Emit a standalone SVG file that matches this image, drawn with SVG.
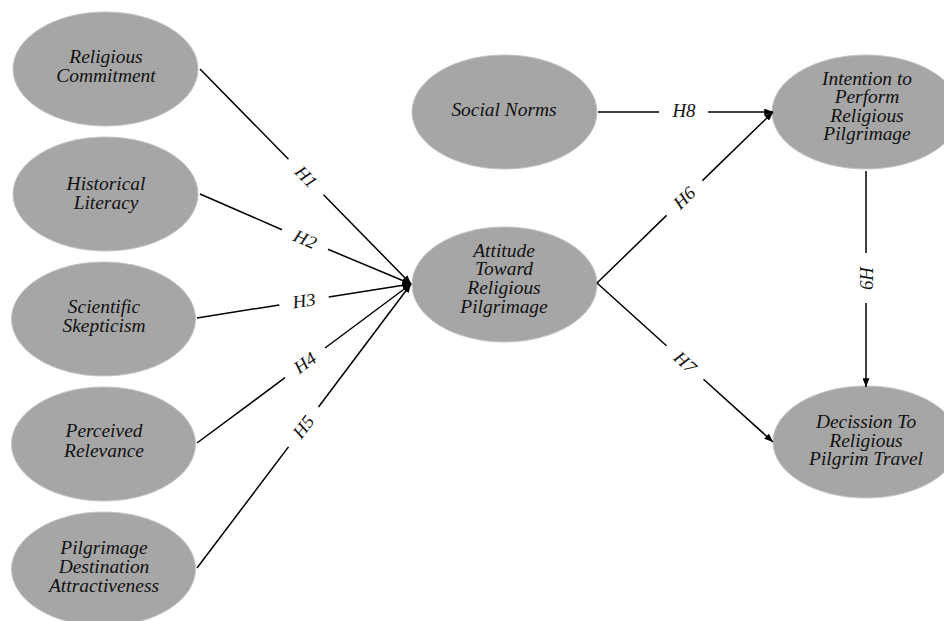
<svg xmlns="http://www.w3.org/2000/svg" width="944" height="621" viewBox="0 0 944 621">
<defs>
<style>
.node ellipse{fill:#a6a6a6;stroke:#c4c4c4;stroke-width:1}
.node text{font-family:"Liberation Serif","Times New Roman",serif;font-style:italic;font-size:18px;fill:#111;text-anchor:middle}
.edges line{stroke:#000;stroke-width:1.5;fill:none}
.lbl{font-family:"Liberation Serif","Times New Roman",serif;font-style:italic;font-size:18px;fill:#111;text-anchor:middle;dominant-baseline:central}
</style>
<marker id="arr" viewBox="0 0 10 8" refX="10" refY="4" markerWidth="9" markerHeight="7" markerUnits="userSpaceOnUse" orient="auto">
<path d="M0,0 L10,4 L0,8 z" fill="#000"/>
</marker>
</defs>
<rect width="944" height="621" fill="#fff"/>

<g id="n-religious-commitment" class="node">
<ellipse cx="105.5" cy="69" rx="92.5" ry="57"/>
<text transform="translate(106 0) scale(1.08 1)"><tspan x="0" y="63">Religious</tspan><tspan x="0" y="82">Commitment</tspan></text>
</g>
<g id="n-historical-literacy" class="node">
<ellipse cx="105.5" cy="194" rx="92.5" ry="57"/>
<text transform="translate(106 0) scale(1.08 1)"><tspan x="0" y="190">Historical</tspan><tspan x="0" y="209">Literacy</tspan></text>
</g>
<g id="n-scientific-skepticism" class="node">
<ellipse cx="103.5" cy="319" rx="92" ry="57"/>
<text transform="translate(104 0) scale(1.08 1)"><tspan x="0" y="313">Scientific</tspan><tspan x="0" y="332">Skepticism</tspan></text>
</g>
<g id="n-perceived-relevance" class="node">
<ellipse cx="103.5" cy="444" rx="92" ry="57"/>
<text transform="translate(104 0) scale(1.08 1)"><tspan x="0" y="437">Perceived</tspan><tspan x="0" y="457">Relevance</tspan></text>
</g>
<g id="n-destination-attractiveness" class="node">
<ellipse cx="103.5" cy="569" rx="92" ry="57"/>
<text transform="translate(104 0) scale(1.08 1)"><tspan x="0" y="554">Pilgrimage</tspan><tspan x="0" y="573">Destination</tspan><tspan x="0" y="592">Attractiveness</tspan></text>
</g>
<g id="n-social-norms" class="node">
<ellipse cx="504.5" cy="112" rx="92.5" ry="57"/>
<text transform="translate(504 0) scale(1.08 1)"><tspan x="0" y="116">Social Norms</tspan></text>
</g>
<g id="n-attitude" class="node">
<ellipse cx="504.5" cy="284.5" rx="92.5" ry="57.5"/>
<text transform="translate(504 0) scale(1.08 1)"><tspan x="0" y="257">Attitude</tspan><tspan x="0" y="275.5">Toward</tspan><tspan x="0" y="294">Religious</tspan><tspan x="0" y="313">Pilgrimage</tspan></text>
</g>
<g id="n-intention" class="node">
<ellipse cx="866" cy="112" rx="94" ry="57"/>
<text transform="translate(867 0) scale(1.08 1)"><tspan x="0" y="85">Intention to</tspan><tspan x="0" y="103.5">Perform</tspan><tspan x="0" y="122">Religious</tspan><tspan x="0" y="140.5">Pilgrimage</tspan></text>
</g>
<g id="n-decision" class="node">
<ellipse cx="866" cy="442" rx="93" ry="56"/>
<text transform="translate(866 0) scale(1.08 1)"><tspan x="0" y="428">Decission To</tspan><tspan x="0" y="447">Religious</tspan><tspan x="0" y="465.5">Pilgrim Travel</tspan></text>
</g>

<g id="connectors" class="edges">
<g id="e-h1">
<line x1="200" y1="69" x2="288.5" y2="159.2"/>
<line x1="323.5" y1="194.8" x2="411" y2="284" marker-end="url(#arr)"/>
<text class="lbl" transform="translate(306 177) rotate(45.5) scale(1.05 1)">H1</text>
</g>
<g id="e-h2">
<line x1="200" y1="194" x2="282" y2="229.7"/>
<line x1="328" y1="249.3" x2="411" y2="284" marker-end="url(#arr)"/>
<text class="lbl" transform="translate(305 239.5) rotate(23.1) scale(1.05 1)">H2</text>
</g>
<g id="e-h3">
<line x1="197" y1="318" x2="279.3" y2="304.9"/>
<line x1="328.7" y1="297.1" x2="411" y2="284" marker-end="url(#arr)"/>
<text class="lbl" transform="translate(304 301) rotate(-9) scale(1.05 1)">H3</text>
</g>
<g id="e-h4">
<line x1="197" y1="443" x2="285" y2="377.7"/>
<line x1="325" y1="348" x2="411" y2="284" marker-end="url(#arr)"/>
<text class="lbl" transform="translate(305 363) rotate(-36.6) scale(1.05 1)">H4</text>
</g>
<g id="e-h5">
<line x1="197" y1="568" x2="288.5" y2="446.9"/>
<line x1="318.5" y1="407" x2="411" y2="284" marker-end="url(#arr)"/>
<text class="lbl" transform="translate(303.5 427) rotate(-53) scale(1.05 1)">H5</text>
</g>
<g id="e-h6">
<line x1="597" y1="283" x2="666.6" y2="215.4"/>
<line x1="702.4" y1="180.6" x2="773" y2="112" marker-end="url(#arr)"/>
<text class="lbl" transform="translate(684.5 198) rotate(-44.2) scale(1.05 1)">H6</text>
</g>
<g id="e-h7">
<line x1="597" y1="283" x2="666.5" y2="345.8"/>
<line x1="703.5" y1="379.2" x2="773" y2="442" marker-end="url(#arr)"/>
<text class="lbl" transform="translate(685 362.5) rotate(42.1) scale(1.05 1)">H7</text>
</g>
<g id="e-h8">
<line x1="598" y1="112" x2="659" y2="112"/>
<line x1="708" y1="112" x2="773" y2="112" marker-end="url(#arr)"/>
<text class="lbl" transform="translate(684 111) scale(1.05 1)">H8</text>
</g>
<g id="e-h9">
<line x1="866" y1="171" x2="866" y2="253"/>
<line x1="866" y1="303" x2="866" y2="387" marker-end="url(#arr)"/>
<text class="lbl" transform="translate(866 278) rotate(90) scale(1.05 1)">H9</text>
</g>
</g>
</svg>
